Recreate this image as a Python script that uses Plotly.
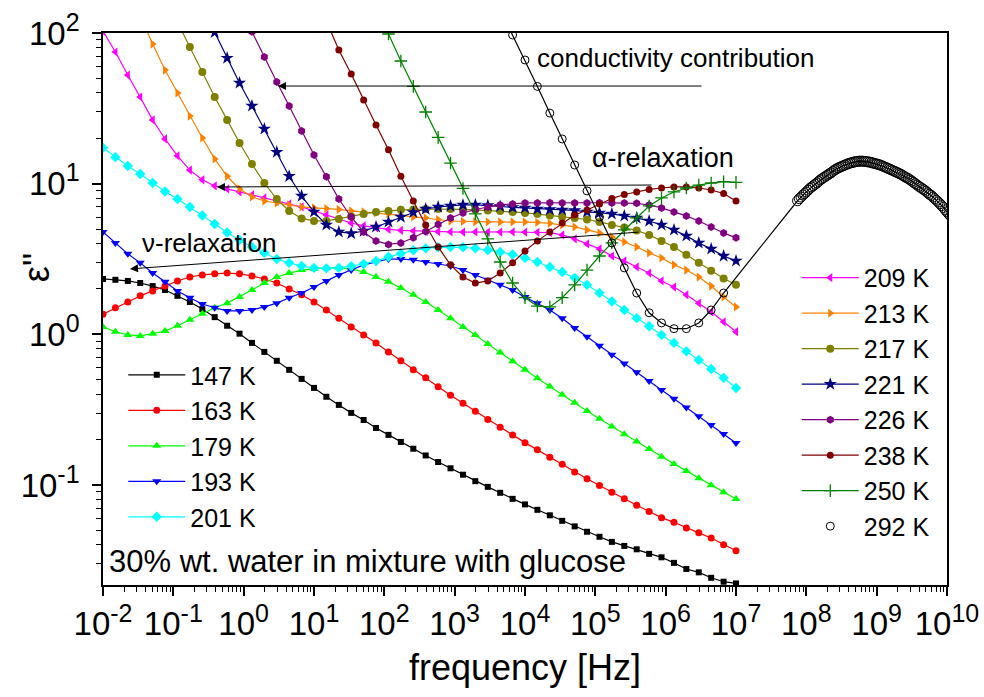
import plotly.graph_objects as go

N = None

# measurement grid (log10 of frequency in Hz), low-frequency analyser
FREQ_EXP = [-2.0, -1.824, -1.647, -1.471, -1.294, -1.118, -0.941, -0.765, -0.588, -0.412,
            -0.235, -0.059, 0.118, 0.294, 0.471, 0.647, 0.824, 1.0, 1.176, 1.353,
            1.529, 1.706, 1.882, 2.059, 2.235, 2.412, 2.588, 2.765, 2.941, 3.118,
            3.294, 3.471, 3.647, 3.824, 4.0, 4.176, 4.353, 4.529, 4.706, 4.882,
            5.059, 5.235, 5.412, 5.588, 5.765, 5.941, 6.118, 6.294, 6.471, 6.647,
            6.824, 7.0]

E147 = [2.33, 2.30, 2.26, 2.19, 2.09, 1.97, 1.80, 1.64, 1.47, 1.30,
        1.14, 1.01, 0.877, 0.764, 0.667, 0.581, 0.506, 0.441, 0.385, 0.340,
        0.301, 0.270, 0.239, 0.215, 0.193, 0.174, 0.157, 0.142, 0.129, 0.117,
        0.106, 0.0971, 0.0887, 0.0809, 0.0743, 0.0684, 0.0629, 0.0578, 0.0531, 0.0489,
        0.0453, 0.0419, 0.0394, 0.0374, 0.0349, 0.0331, 0.0304, 0.0277, 0.0263, 0.0242,
        0.0228, 0.0222]
E163 = [1.36, 1.50, 1.64, 1.80, 1.94, 2.09, 2.26, 2.40, 2.48, 2.52,
        2.55, 2.52, 2.44, 2.33, 2.19, 2.00, 1.83, 1.64, 1.45, 1.28,
        1.12, 0.991, 0.877, 0.764, 0.667, 0.581, 0.514, 0.448, 0.394, 0.348,
        0.308, 0.272, 0.242, 0.215, 0.191, 0.171, 0.153, 0.137, 0.122, 0.110,
        0.0993, 0.0896, 0.0810, 0.0734, 0.0667, 0.0607, 0.0565, 0.0519, 0.0481, 0.0445,
        0.0401, 0.0366]
E179 = [1.12, 1.04, 0.991, 0.976, 1.01, 1.05, 1.14, 1.25, 1.37, 1.50,
        1.61, 1.77, 1.97, 2.19, 2.40, 2.55, 2.67, 2.72, 2.76, 2.76,
        2.72, 2.59, 2.40, 2.23, 2.03, 1.83, 1.64, 1.45, 1.28, 1.12,
        0.991, 0.863, 0.756, 0.662, 0.581, 0.511, 0.451, 0.397, 0.351, 0.310,
        0.275, 0.244, 0.217, 0.194, 0.173, 0.154, 0.138, 0.124, 0.111, 0.0996,
        0.0896, 0.0807]
E193 = [4.78, 4.04, 3.42, 2.98, 2.55, 2.23, 1.94, 1.75, 1.59, 1.50,
        1.43, 1.43, 1.45, 1.52, 1.61, 1.75, 1.88, 2.06, 2.26, 2.48,
        2.67, 2.89, 3.02, 3.16, 3.16, 3.12, 3.02, 2.93, 2.84, 2.67,
        2.48, 2.30, 2.13, 1.97, 1.77, 1.61, 1.45, 1.28, 1.10, 0.962,
        0.838, 0.733, 0.640, 0.560, 0.489, 0.427, 0.374, 0.327, 0.286, 0.250,
        0.218, 0.190]
E201 = [17.3, 15.0, 13.1, 11.6, 10.1, 8.87, 7.91, 7.00, 6.15, 5.40,
        4.74, 4.23, 3.80, 3.47, 3.16, 2.98, 2.84, 2.76, 2.74, 2.76,
        2.83, 2.93, 3.07, 3.27, 3.44, 3.61, 3.72, 3.78, 3.80, 3.78,
        3.72, 3.63, 3.52, 3.39, 3.21, 3.02, 2.80, 2.59, 2.37, 2.13,
        1.88, 1.65, 1.45, 1.28, 1.13, 0.991, 0.877, 0.771, 0.676, 0.589,
        0.514, 0.440]
E209 = [103, 74.8, 52.6, 37.6, 26.5, 19.8, 15.3, 12.3, 10.6, 9.66,
        9.22, 8.81, 8.41, 8.04, 7.67, 7.33, 7.00, 6.59, 6.20, 5.83,
        5.48, 5.24, 5.08, 4.97, 4.89, 4.85, 4.81, 4.80, 4.78, 4.77,
        4.78, 4.76, 4.77, 4.78, 4.76, 4.75, 4.73, 4.57, 4.30, 3.98,
        3.69, 3.31, 3.07, 2.80, 2.55, 2.26, 2.06, 1.83, 1.61, 1.41,
        1.21, 1.04]
E213 = [N, N, N, 130, 84.5, 56.8, 40.0, 28.1, 20.1, 14.6,
        11.2, 9.22, 8.17, 7.67, 7.45, 7.22, 7.00, 6.90, 6.84, 6.74,
        6.59, 6.49, 6.39, 6.30, 6.15, 6.01, 5.92, 5.78, 5.65, 5.61,
        5.57, 5.57, 5.57, 5.57, 5.57, 5.53, 5.45, 5.32, 5.16, 4.93,
        4.71, 4.43, 4.10, 3.80, 3.47, 3.21, 2.89, 2.67, 2.40, 2.09,
        1.77, 1.52]
E217 = [N, N, N, N, N, N, 118, 80.7, 55.1, 37.6,
        26.5, 18.6, 13.5, 10.1, 7.91, 6.59, 5.88, 5.66, 5.66, 5.83,
        6.06, 6.30, 6.49, 6.59, 6.70, 6.74, 6.79, 6.79, 6.79, 6.74,
        6.70, 6.64, 6.59, 6.49, 6.39, 6.30, 6.15, 6.01, 5.92, 5.78,
        5.57, 5.32, 5.12, 4.89, 4.57, 4.17, 3.80, 3.37, 2.98, 2.64,
        2.35, 2.13]
E221 = [N, N, N, N, N, N, N, N, N, 101,
        68.2, 46.6, 32.8, 23.1, 16.2, 11.2, 8.28, 6.49, 5.32, 4.78,
        4.67, 4.85, 5.16, 5.57, 6.01, 6.44, 6.79, 7.00, 7.11, 7.22,
        7.22, 7.16, 7.06, 6.95, 6.90, 6.79, 6.74, 6.70, 6.64, 6.49,
        6.39, 6.30, 6.11, 5.92, 5.65, 5.32, 4.93, 4.50, 4.04, 3.69,
        3.31, 3.07]
E226 = [N, N, N, N, N, N, N, N, N, N,
        N, N, 102, 69.3, 47.3, 32.8, 22.4, 15.5, 11.1, 7.91,
        6.01, 4.78, 4.17, 3.95, 4.04, 4.37, 4.82, 5.36, 5.92, 6.39,
        6.74, 7.00, 7.22, 7.33, 7.45, 7.45, 7.47, 7.45, 7.43, 7.45,
        7.47, 7.45, 7.45, 7.40, 7.22, 6.90, 6.49, 6.11, 5.65, 5.16,
        4.71, 4.37]
E238 = [N, N, N, N, N, N, N, N, N, N,
        N, N, N, N, N, N, N, N, 120, 77.1,
        53.5, 35.9, 24.5, 16.8, 11.2, 7.67, 5.32, 3.80, 2.89, 2.40,
        2.19, 2.26, 2.55, 2.98, 3.57, 4.17, 4.78, 5.48, 6.20, 6.68,
        7.33, 7.96, 8.47, 8.81, 9.16, 9.36, 9.51, 9.51, 9.36, 9.08,
        8.61, 7.67]
E250 = [N, N, N, N, N, N, N, N, N, N,
        N, N, N, N, N, N, N, N, N, N,
        N, N, 144, 98.5, 65.2, 44.2, 29.9, 20.3, 13.7, 9.29,
        6.30, 4.30, 3.02, 2.19, 1.75, 1.54, 1.52, 1.75, 2.13, 2.67,
        3.31, 4.04, 4.93, 5.92, 7.11, 8.04, 8.81, 9.36, 9.79, 10.1,
        10.3, 10.2]
E292 = [N, N, N, N, N, N, N, N, N, N,
        N, N, N, N, N, N, N, N, N, N,
        N, N, N, N, N, N, N, N, N, N,
        N, N, 143, 97.0, 66.2, 44.2, 29.4, 19.8, 13.3, 8.95,
        6.01, 4.04, 2.76, 1.88, 1.39, 1.19, 1.09, 1.09, 1.19, 1.45,
        1.88, N]

# 292 K, high-frequency analyser (log10 f and eps'')
HF_EXP = [7.875, 7.9, 7.925, 7.95, 7.975, 8.0,
          8.025, 8.05, 8.075, 8.1, 8.125, 8.15, 8.175, 8.2, 8.225, 8.25,
          8.275, 8.3, 8.325, 8.35, 8.375, 8.4, 8.425, 8.45, 8.475, 8.5,
          8.525, 8.55, 8.575, 8.6, 8.625, 8.65, 8.675, 8.7, 8.725, 8.75,
          8.775, 8.8, 8.825, 8.85, 8.875, 8.9, 8.925, 8.95, 8.975, 9.0,
          9.025, 9.05, 9.075, 9.1, 9.125, 9.15, 9.175, 9.2, 9.225, 9.25,
          9.275, 9.3, 9.325, 9.35, 9.375, 9.4, 9.425, 9.45, 9.475, 9.5,
          9.525, 9.55, 9.575, 9.6, 9.625, 9.65, 9.675, 9.7, 9.725, 9.75,
          9.775, 9.8, 9.825, 9.85, 9.875, 9.9, 9.925, 9.95, 9.975, 10.0,
          10.025, 10.05]
E292_HF = [7.7, 7.95, 8.15, 8.4, 8.6, 8.8,
           9.05, 9.3, 9.5, 9.7, 9.9, 10.1, 10.35, 10.6, 10.8, 11.0,
           11.2, 11.4, 11.6, 11.8, 12.05, 12.3, 12.5, 12.7, 12.85, 13.0,
           13.15, 13.3, 13.45, 13.6, 13.7, 13.8, 13.9, 14.0, 14.05, 14.1,
           14.1, 14.1, 14.05, 14.0, 13.95, 13.9, 13.8, 13.7, 13.6, 13.5,
           13.4, 13.3, 13.15, 13.0, 12.85, 12.7, 12.55, 12.4, 12.25, 12.1,
           11.95, 11.8, 11.65, 11.5, 11.3, 11.1, 10.95, 10.8, 10.6, 10.4,
           10.2, 10.0, 9.8, 9.6, 9.45, 9.25, 9.1, 8.9, 8.7, 8.5,
           8.35, 8.15, 7.95, 7.75, 7.55, 7.35, 7.15, 6.95, 6.7, 6.5,
           6.3, 6.1]

FREQ = [10 ** e for e in FREQ_EXP]
HF_FREQ = [10 ** e for e in HF_EXP]

LEFT_NAMES = ["147 K", "163 K", "179 K", "193 K", "201 K"]
RIGHT_NAMES = ["209 K", "213 K", "217 K", "221 K", "226 K", "238 K", "250 K"]

STYLE = {
    "147 K": ("#000000", "square", 6),
    "163 K": ("#FF0000", "circle", 7),
    "179 K": ("#00FF00", "triangle-up", 8),
    "193 K": ("#0000FF", "triangle-down", 8),
    "201 K": ("#00FFFF", "diamond", 8),
    "209 K": ("#FF00FF", "triangle-left", 8),
    "213 K": ("#FF8000", "triangle-right", 8),
    "217 K": ("#808000", "circle", 8),
    "221 K": ("#000080", "star", 10),
    "226 K": ("#800080", "hexagon", 8),
    "238 K": ("#800000", "circle", 7),
    "250 K": ("#008000", "cross-thin", 9),
}
DATA = {"147 K": E147, "163 K": E163, "179 K": E179, "193 K": E193, "201 K": E201,
        "209 K": E209, "213 K": E213, "217 K": E217, "221 K": E221, "226 K": E226,
        "238 K": E238, "250 K": E250}

fig = go.Figure()
for name in LEFT_NAMES + RIGHT_NAMES:
    col, sym, sz = STYLE[name]
    mk = dict(symbol=sym, size=sz, color=col,
              line=dict(width=1.3 if sym == "cross-thin" else 0, color=col))
    fig.add_trace(go.Scatter(
        x=FREQ, y=DATA[name], mode="lines+markers", name=name,
        line=dict(color=col, width=1.2), marker=mk,
        legend="legend" if name in LEFT_NAMES else "legend2"))

# 292 K: line through both data sets, then open circles
lf_x = [f for f, v in zip(FREQ, E292) if v is not None]
lf_y = [v for v in E292 if v is not None]
fig.add_trace(go.Scatter(x=lf_x + HF_FREQ, y=lf_y + E292_HF, mode="lines",
                         line=dict(color="black", width=1.2), showlegend=False,
                         legend="legend2"))
fig.add_trace(go.Scatter(x=lf_x, y=lf_y, mode="markers", name="292 K",
                         marker=dict(symbol="circle-open", size=8, color="black",
                                     line=dict(width=1, color="black")),
                         legend="legend2"))
fig.add_trace(go.Scatter(x=HF_FREQ, y=E292_HF, mode="markers", name="292 K", showlegend=False,
                         marker=dict(symbol="circle-open", size=10, color="black",
                                     line=dict(width=1, color="black")),
                         legend="legend2"))


def sup(s):
    return "10<sup><span style='font-size:25px'>%s</span></sup>" % s


XT = [10 ** p for p in range(-2, 11)]
XTT = [sup(str(p)) for p in range(-2, 11)]
XMIN = [m * 10 ** p for p in range(-2, 10) for m in range(2, 10)]
YT = [0.1, 1, 10, 100]
YTT = [sup("-1"), sup("0"), sup("1"), sup("2")]
YMIN = [m * 10 ** p for p in range(-2, 2) for m in range(2, 10)]

axis_common = dict(type="log", tickmode="array", ticks="outside", ticklen=9, tickwidth=1.5,
                   tickcolor="black", linecolor="black", linewidth=1.6, mirror=True,
                   automargin=False,
                   showgrid=False, zeroline=False, tickfont=dict(size=33, color="black"))

fig.update_layout(
    width=984, height=697,
    margin=dict(l=103, r=37, t=33, b=112),
    paper_bgcolor="white", plot_bgcolor="white",
    font=dict(family="Liberation Sans, Arial, sans-serif", color="black"),
    xaxis=dict(range=[-2, 10], tickvals=XT, ticktext=XTT,
               minor=dict(tickmode="array", tickvals=XMIN, ticks="outside", ticklen=5,
                          tickwidth=1.2, tickcolor="black", showgrid=False),
               **axis_common),
    yaxis=dict(range=[-1.664, 2], tickvals=YT, ticktext=YTT, ticklabelstandoff=6,
               minor=dict(tickmode="array", tickvals=YMIN, ticks="outside", ticklen=5,
                          tickwidth=1.2, tickcolor="black", showgrid=False),
               **axis_common),
    legend=dict(x=0.024, y=0.422, xanchor="left", yanchor="top", font=dict(size=25),
                itemwidth=57, bgcolor="rgba(0,0,0,0)", tracegroupgap=0),
    legend2=dict(x=0.822, y=0.598, xanchor="left", yanchor="top", font=dict(size=25),
                 itemwidth=57, bgcolor="rgba(0,0,0,0)", tracegroupgap=0),
    showlegend=True,
)

arrow = dict(xref="x", yref="y", axref="x", ayref="y", showarrow=True, arrowhead=2,
             arrowsize=1.6, arrowwidth=1, arrowcolor="black", text="")
fig.add_annotation(x=0.488, y=1.648, ax=6.531, ay=1.648, **arrow)
fig.add_annotation(x=-0.379, y=0.978, ax=5.82, ay=0.991, **arrow)
fig.add_annotation(x=-1.616, y=0.434, ax=5.635, ay=0.679, **arrow)

fig.add_annotation(x=4.142, y=1.834, xref="x", yref="y", text="conductivity contribution",
                   showarrow=False, xanchor="left", yanchor="middle", font=dict(size=26, color="black"))
fig.add_annotation(x=4.925, y=1.171, xref="x", yref="y", text="α-relaxation",
                   showarrow=False, xanchor="left", yanchor="middle", font=dict(size=27, color="black"))
fig.add_annotation(x=-1.474, y=0.6065, xref="x", yref="y", text="ν-relaxation",
                   showarrow=False, xanchor="left", yanchor="middle", font=dict(size=26, color="black"))
fig.add_annotation(x=0.005, y=0.0417, xref="paper", yref="paper",
                   text="30% wt. water in mixture with glucose",
                   showarrow=False, xanchor="left", yanchor="middle", font=dict(size=31, color="black"))

# axis titles
fig.add_annotation(x=0.5, y=-0.150, xref="paper", yref="paper", text="frequency [Hz]",
                   showarrow=False, xanchor="center", yanchor="middle", font=dict(size=36, color="black"))
fig.add_annotation(x=-0.079, y=0.576, xref="paper", yref="paper", text="ε''", textangle=-90,
                   showarrow=False, xanchor="center", yanchor="middle", font=dict(size=36, color="black"))

fig.write_html("out.html")
